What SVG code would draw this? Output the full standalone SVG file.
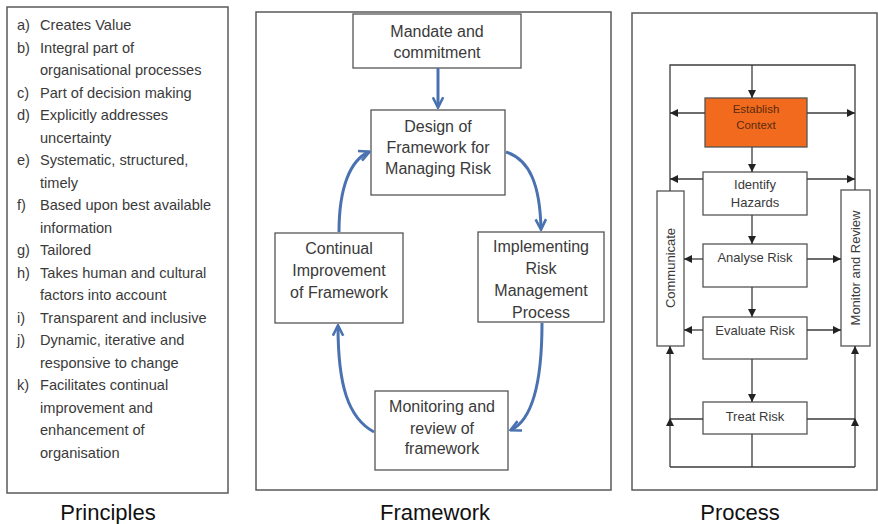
<svg xmlns="http://www.w3.org/2000/svg" width="878" height="524" viewBox="0 0 878 524">
<style>
.panel{fill:#fff;stroke:#5a5a5a;stroke-width:1.5}
.box{fill:#fff;stroke:#555;stroke-width:1.3}
.t{font-family:"Liberation Sans",Arial,sans-serif;fill:#3a3a3a}
.p{font-size:14.6px}
.fw{font-size:16px;text-anchor:middle}
.pr{font-size:13px;text-anchor:middle}
.cap{font-family:"Liberation Sans",Arial,sans-serif;font-size:22px;fill:#111;text-anchor:middle}
.blue{fill:none;stroke:#4a72b0;stroke-width:3}
.blk{fill:none;stroke:#3c3c3c;stroke-width:1.3}
</style>
<defs>
<marker id="ab" viewBox="0 0 10 10" refX="8.5" refY="5" markerWidth="13" markerHeight="13" markerUnits="userSpaceOnUse" orient="auto">
<path d="M1,1 L9,5 L1,9" fill="none" stroke="#4a72b0" stroke-width="2"/>
</marker>
<marker id="ak" viewBox="0 0 10 10" refX="10" refY="5" markerWidth="8" markerHeight="8" markerUnits="userSpaceOnUse" orient="auto">
<path d="M0,0 L10,5 L0,10 z" fill="#222"/>
</marker>
</defs>
<rect width="878" height="524" fill="#fff"/>

<!-- Principles panel -->
<g id="principles">
<rect class="panel" x="7" y="7" width="221" height="486"/>
<g class="t p">
<text x="17" y="30">a)</text><text x="40" y="30">Creates Value</text>
<text x="17" y="53">b)</text><text x="40" y="53">Integral part of</text>
<text x="40" y="75">organisational processes</text>
<text x="17" y="98">c)</text><text x="40" y="98">Part of decision making</text>
<text x="17" y="120">d)</text><text x="40" y="120">Explicitly addresses</text>
<text x="40" y="143">uncertainty</text>
<text x="17" y="165">e)</text><text x="40" y="165">Systematic, structured,</text>
<text x="40" y="188">timely</text>
<text x="17" y="210">f)</text><text x="40" y="210">Based upon best available</text>
<text x="40" y="233">information</text>
<text x="17" y="255">g)</text><text x="40" y="255">Tailored</text>
<text x="17" y="278">h)</text><text x="40" y="278">Takes human and cultural</text>
<text x="40" y="300">factors into account</text>
<text x="17" y="323">i)</text><text x="40" y="323">Transparent and inclusive</text>
<text x="17" y="345">j)</text><text x="40" y="345">Dynamic, iterative and</text>
<text x="40" y="368">responsive to change</text>
<text x="17" y="390">k)</text><text x="40" y="390">Facilitates continual</text>
<text x="40" y="413">improvement and</text>
<text x="40" y="435">enhancement of</text>
<text x="40" y="458">organisation</text>
</g>
</g>
<text class="cap" x="108" y="520">Principles</text>

<!-- Framework panel -->
<rect class="panel" x="256" y="12" width="355" height="478"/>
<g id="mandate">
<rect class="box" x="353" y="14" width="168" height="54"/>
<text class="t fw" x="437" y="37">Mandate and</text>
<text class="t fw" x="437" y="58">commitment</text>
</g>
<g id="design">
<rect class="box" x="371" y="110" width="134" height="85"/>
<text class="t fw" x="438" y="132">Design of</text>
<text class="t fw" x="438" y="153">Framework for</text>
<text class="t fw" x="438" y="174">Managing Risk</text>
</g>
<g id="implementing">
<rect class="box" x="478" y="232" width="126" height="90"/>
<text class="t fw" x="541" y="252">Implementing</text>
<text class="t fw" x="541" y="274">Risk</text>
<text class="t fw" x="541" y="296">Management</text>
<text class="t fw" x="541" y="318">Process</text>
</g>
<g id="continual">
<rect class="box" x="275" y="233" width="128" height="90"/>
<text class="t fw" x="339" y="254">Continual</text>
<text class="t fw" x="339" y="276">Improvement</text>
<text class="t fw" x="339" y="298">of Framework</text>
</g>
<g id="monitoring">
<rect class="box" x="375" y="391" width="133" height="79"/>
<text class="t fw" x="442" y="412">Monitoring and</text>
<text class="t fw" x="442" y="434">review of</text>
<text class="t fw" x="442" y="454">framework</text>
</g>
<g id="framework-connectors">
<path class="blue" d="M438,68 V107" marker-end="url(#ab)"/>
<path class="blue" d="M506,152 C530,160 540,185 541,229" marker-end="url(#ab)"/>
<path class="blue" d="M542,323 C542,385 532,420 511,430" marker-end="url(#ab)"/>
<path class="blue" d="M374,432 C348,418 338,385 338,326" marker-end="url(#ab)"/>
<path class="blue" d="M339,232 C339,188 350,160 369,152" marker-end="url(#ab)"/>
</g>
<text class="cap" x="435" y="520">Framework</text>

<!-- Process panel -->
<rect class="panel" x="632" y="13" width="245" height="477"/>
<g id="establish">
<rect x="705" y="98" width="102" height="49" fill="#f26a1d" stroke="#555" stroke-width="1.3"/>
<text x="756" y="113" font-family="'Liberation Sans',Arial,sans-serif" font-size="11.5" fill="#5a2a0e" text-anchor="middle">Establish</text>
<text x="756" y="129" font-family="'Liberation Sans',Arial,sans-serif" font-size="11.5" fill="#5a2a0e" text-anchor="middle">Context</text>
</g>
<g id="identify">
<rect class="box" x="703" y="172" width="104" height="43"/>
<text class="t pr" x="755" y="189">Identify</text>
<text class="t pr" x="755" y="207">Hazards</text>
</g>
<g id="analyse">
<rect class="box" x="703" y="244" width="104" height="43"/>
<text class="t pr" x="755" y="262">Analyse Risk</text>
</g>
<g id="evaluate">
<rect class="box" x="703" y="317" width="104" height="42"/>
<text class="t pr" x="755" y="335">Evaluate Risk</text>
</g>
<g id="treat">
<rect class="box" x="703" y="402" width="104" height="32"/>
<text class="t pr" x="755" y="421">Treat Risk</text>
</g>
<g id="communicate">
<rect class="box" x="657" y="191" width="27" height="155"/>
<text class="t pr" transform="translate(675,268) rotate(-90)" x="0" y="0">Communicate</text>
</g>
<g id="monitor-review">
<rect class="box" x="841" y="190" width="29" height="156"/>
<text class="t pr" transform="translate(860,268) rotate(-90)" x="0" y="0">Monitor and Review</text>
</g>
<g id="process-connectors">
<path class="blk" d="M670,191 V65 H855 V190"/>
<path class="blk" d="M752,65 V98" marker-end="url(#ak)"/>
<path class="blk" d="M705,113 H670" marker-end="url(#ak)"/>
<path class="blk" d="M807,113 H855" marker-end="url(#ak)"/>
<path class="blk" d="M752,147 V172" marker-end="url(#ak)"/>
<path class="blk" d="M703,179 H670" marker-end="url(#ak)"/>
<path class="blk" d="M807,179 H855" marker-end="url(#ak)"/>
<path class="blk" d="M752,215 V244" marker-end="url(#ak)"/>
<path class="blk" d="M703,259 H684" marker-end="url(#ak)"/>
<path class="blk" d="M807,259 H841" marker-end="url(#ak)"/>
<path class="blk" d="M752,287 V317" marker-end="url(#ak)"/>
<path class="blk" d="M703,330 H684" marker-end="url(#ak)"/>
<path class="blk" d="M807,330 H841" marker-end="url(#ak)"/>
<path class="blk" d="M752,359 V402" marker-end="url(#ak)"/>
<path class="blk" d="M752,434 V467 M670,467 H855"/>
<path class="blk" d="M703,419 H670 M807,419 H855"/>
<path class="blk" d="M670,467 V418" marker-end="url(#ak)"/>
<path class="blk" d="M670,418 V346" marker-end="url(#ak)"/>
<path class="blk" d="M855,467 V418" marker-end="url(#ak)"/>
<path class="blk" d="M855,418 V346" marker-end="url(#ak)"/>
</g>
<text class="cap" x="740" y="520">Process</text>
</svg>
